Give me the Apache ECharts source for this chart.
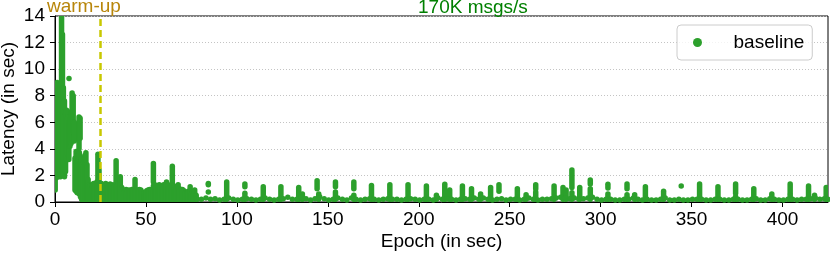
<!DOCTYPE html>
<html>
<head>
<meta charset="utf-8">
<script src="https://cdn.jsdelivr.net/npm/echarts@6/dist/echarts.min.js"></script>
<style>html,body{margin:0;padding:0;background:#fff}#c{width:830px;height:255px}</style>
</head>
<body>
<div id="c"></div>
<script>
// ---- data ----
const seriesName = 'baseline';
const titleText = '170K msgs/s';
const warmupLabel = 'warm-up';
const warmupEpoch = 25;

// dense vertical runs of points: [epoch, lowest latency, highest latency]
const streakRuns = [
  [0.1,0.9,2.6],[0.6,1.8,8.6],[1.2,2.2,9.0],[1.8,1.9,8.4],[2.4,2.4,7.8],[3.0,1.9,8.8],
  [3.6,2.4,13.9],[4.1,2.6,12.6],[4.6,2.0,8.6],[5.2,1.9,7.6],[5.8,2.3,6.6],[6.4,3.2,6.9],
  [7.0,3.6,6.4],[7.6,3.2,6.0],[8.2,4.2,6.2],[8.8,4.4,6.8],[9.4,4.6,8.2],[10.0,5.2,8.0],
  [10.6,4.6,6.0],[13.2,4.0,6.4],[13.8,4.8,6.3],
  [11.0,0.9,3.3],[11.6,0.8,3.8],[12.2,0.7,3.0],[12.8,0.7,3.5],[13.4,0.6,3.7],[14.0,0.4,3.1],
  [14.6,0.2,3.3],[15.2,0.1,2.9],[15.8,0.1,2.7],[16.4,0.1,3.5],[17.0,0.1,3.7],[17.6,0.1,2.8],
  [18.2,0.1,1.7],[18.8,0.1,1.3],[19.4,0.1,1.2],[20.0,0.1,1.0],[20.6,0.1,1.3],[21.2,0.1,1.4],
  [21.8,0.1,1.2],[22.4,0.1,1.4],[23.0,0.1,1.5],[23.6,0.1,3.6],[24.2,0.1,2.4],[24.8,0.1,1.3],
  [25.5,0.1,1.4],[26.3,0.1,1.2],[27.1,0.1,1.3],[27.9,0.1,1.4],[28.7,0.1,1.3],[29.5,0.1,1.2],
  [30.3,0.1,1.35],[31.1,0.1,1.3],[31.9,0.1,1.1],[32.7,0.1,1.3],[33.6,0.1,3.1],[34.4,0.1,1.2],
  [35.2,0.1,1.0],[35.9,0.1,1.9],[36.7,0.1,1.1],[37.5,0.1,0.9],[38.3,0.1,0.8],[39.1,0.1,0.95],
  [39.9,0.1,0.8],[40.7,0.1,0.9],[41.5,0.1,0.85],[42.3,0.1,0.95],[43.1,0.1,0.9],[44.0,0.1,1.7],
  [44.8,0.1,0.9],[45.6,0.1,0.85],[46.4,0.1,0.95],[47.2,0.1,0.9],[48.0,0.1,0.75],[48.8,0.1,0.65],
  [49.6,0.1,0.7],[50.4,0.1,0.85],[51.2,0.1,0.9],[52.0,0.1,0.95],[52.8,0.1,0.9],[54.1,1.5,2.9],
  [54.1,0.1,1.2],[54.9,0.1,1.3],[55.7,0.1,1.1],[56.5,0.1,1.2],[57.3,0.1,1.3],[58.1,0.1,1.2],
  [58.9,0.1,1.15],[59.7,0.1,1.3],[60.5,0.1,1.2],[61.3,0.1,1.5],[62.1,0.1,1.2],[62.9,0.1,1.1],
  [63.7,0.1,1.3],[64.5,0.1,2.7],[65.3,0.1,1.2],[66.1,0.1,1.0],[66.9,0.1,1.1],[67.7,0.1,1.3],
  [68.5,0.1,1.0],[69.3,0.1,0.9],[70.1,0.1,0.95],[70.9,0.1,0.85],[71.7,0.1,0.7],[72.5,0.1,0.6],
  [73.3,0.1,0.8],[74.3,0.1,1.15],[75.1,0.1,0.6],[75.9,0.1,0.5],[76.8,0.1,0.9],[77.6,0.1,0.5],
  [94.4,0.2,1.5],[104.4,1.15,1.35],[104.4,0.2,0.65],[114.5,0.2,1.15],[124.2,0.2,1.15],
  [134.0,0.2,1.1],[136.0,0.2,0.6],[144.1,1.0,1.6],[145.0,0.2,0.6],[154.2,1.15,1.5],[154.2,0.2,0.75],
  [164.3,1.0,1.5],[164.3,0.2,0.5],[174.0,0.2,1.25],[184.1,0.2,1.3],[194.1,0.2,1.3],[204.2,0.2,1.2],
  [209.7,0.2,0.5],[214.3,0.2,1.33],[217.0,0.2,0.9],[224.0,0.2,1.2],[229.0,0.2,1.0],[234.0,0.2,0.6],
  [239.5,0.2,1.1],[244.1,0.8,1.3],[254.2,0.2,1.0],[259.0,0.2,0.55],[264.3,0.2,0.75],[264.3,1.0,1.3],
  [274.4,0.2,1.2],[279.3,0.2,1.1],[281.0,0.2,0.9],[284.2,1.1,2.4],[284.2,0.2,0.7],[288.5,0.2,1.1],
  [294.3,1.35,1.65],[294.3,0.2,1.0],[304.0,1.05,1.33],[304.0,0.2,0.6],[314.5,1.0,1.35],[314.5,0.2,0.55],
  [318.7,0.2,0.55],[324.6,0.2,1.15],[334.6,0.2,0.8],[354.4,0.2,1.35],[364.5,0.2,1.15],
  [374.2,0.65,1.35],[374.2,0.2,0.4],[384.2,0.2,1.0],[394.1,0.2,0.6],[404.2,0.65,1.35],[404.2,0.2,0.5],
  [414.3,0.2,1.2],[417.6,0.2,0.5],[424.0,0.2,1.1]
];

// isolated points: [epoch, latency]
const isolatedDots = [
  [7.7,9.3],[84.3,1.4],[84.3,1.3],[84.3,0.75],[344.3,1.2]
];

// low steady-state floor: [epoch, latency]
const floorPoints = [
  [78,0.25],[80.5,0.2],[83,0.3],[85.5,0.2],[88,0.25],[90.5,0.15],[93,0.2],[95.5,0.3],[98,0.2],
  [100.5,0.15],[103,0.2],[105.5,0.25],[108,0.2],[110.5,0.15],[113,0.2],[115.5,0.3],[118,0.2],
  [120.5,0.15],[123,0.2],[125.5,0.25],[128,0.35],[130.5,0.2],[133,0.2],[135.5,0.35],[138,0.25],
  [140.5,0.15],[143,0.25],[145.5,0.4],[148,0.25],[150.5,0.15],[153,0.2],[155.5,0.3],[158,0.2],
  [160.5,0.15],[163,0.3],[165.5,0.2],[168,0.15],[170.5,0.2],[173,0.25],[175.5,0.2],[178,0.15],
  [180.5,0.2],[183,0.25],[185.5,0.2],[188,0.2],[190.5,0.15],[193,0.2],[195.5,0.25],[198,0.2],
  [200.5,0.15],[203,0.2],[205.5,0.2],[208,0.15],[210.5,0.3],[213,0.2],[215.5,0.25],[218,0.2],
  [220.5,0.15],[223,0.2],[225.5,0.25],[228,0.2],[230.5,0.3],[233,0.2],[235.5,0.3],[238,0.2],
  [240.5,0.15],[243,0.2],[245.5,0.25],[248,0.15],[250.5,0.2],[253,0.2],[255.5,0.15],[258,0.2],
  [260.5,0.3],[263,0.2],[265.5,0.15],[268,0.2],[270.5,0.2],[273,0.25],[275.5,0.3],[278,0.35],
  [280.5,0.3],[283,0.25],[285.5,0.3],[288,0.2],[290.5,0.25],[293,0.3],[295.5,0.35],[298,0.2],
  [300.5,0.15],[303,0.2],[305.5,0.2],[308,0.15],[310.5,0.15],[313,0.2],[315.5,0.2],[318,0.3],
  [320.5,0.2],[323,0.15],[325.5,0.2],[328,0.15],[330.5,0.15],[333,0.2],[335.5,0.3],[338,0.15],
  [340.5,0.15],[343,0.2],[345.5,0.15],[348,0.15],[350.5,0.2],[353,0.2],[355.5,0.2],[358,0.15],
  [360.5,0.15],[363,0.2],[365.5,0.2],[368,0.15],[370.5,0.15],[373,0.2],[375.5,0.2],[378,0.15],
  [380.5,0.15],[383,0.2],[385.5,0.25],[388,0.15],[390.5,0.15],[393,0.25],[395.5,0.2],[398,0.15],
  [400.5,0.15],[403,0.2],[405.5,0.2],[408,0.15],[410.5,0.2],[413,0.2],[415.5,0.25],[418,0.3],
  [420.5,0.2],[423,0.25],[425,0.2]
];

// ---- chart ----
const FONT = '"Liberation Sans", Arial, Helvetica, sans-serif';
const GREEN = '#2ca02c';
const DOT = 5.5;

const chart = echarts.init(document.getElementById('c'), null, {renderer: 'canvas'});
chart.setOption({
  animation: false,
  backgroundColor: '#ffffff',
  textStyle: {fontFamily: FONT},
  grid: {left: 55, right: 2, top: 16, bottom: 53, containLabel: false, outerBoundsMode: 'none',
         show: true, borderColor: '#000', borderWidth: 1, backgroundColor: 'transparent'},
  xAxis: {
    type: 'value', min: 0, max: 425, interval: 50,
    name: 'Epoch (in sec)', nameLocation: 'middle', nameGap: 30, nameMoveOverlap: false,
    nameTextStyle: {fontSize: 19, color: '#000', fontFamily: FONT},
    axisLine: {show: true, onZero: false, lineStyle: {color: '#000', width: 1}},
    axisTick: {show: true, length: 5, lineStyle: {color: '#000', width: 1}},
    axisLabel: {fontSize: 19, color: '#000', margin: 8, showMaxLabel: false, fontFamily: FONT},
    splitLine: {show: false}
  },
  yAxis: {
    type: 'value', min: 0, max: 14, interval: 2,
    name: 'Latency (in sec)', nameLocation: 'middle', nameGap: 37, nameRotate: 90, nameMoveOverlap: false,
    nameTextStyle: {fontSize: 19, color: '#000', fontFamily: FONT},
    axisLine: {show: true, lineStyle: {color: '#000', width: 1}},
    axisTick: {show: true, length: 5, lineStyle: {color: '#000', width: 1}},
    axisLabel: {fontSize: 19, color: '#000', margin: 10, fontFamily: FONT},
    splitLine: {show: true, lineStyle: {color: '#c4c4c4', type: [1, 2], width: 1}}
  },
  legend: {
    data: [{name: seriesName, icon: 'circle'}],
    left: 677, top: 25, padding: [8, 8, 8, 16],
    itemWidth: 20, itemHeight: 9, itemGap: 0,
    borderColor: '#cccccc', borderWidth: 1, borderRadius: 4,
    backgroundColor: 'rgba(255,255,255,0.8)',
    textStyle: {fontSize: 19, color: '#000', fontFamily: FONT, padding: [0, 0, 0, 21]},
    itemStyle: {color: GREEN}
  },
  graphic: [
    {type: 'text', x: 47, y: 6.5, z: 10, style: {text: warmupLabel, font: '19px ' + FONT, fill: '#b8860b', align: 'left', verticalAlign: 'middle'}},
    {type: 'text', x: 418, y: 8.2, z: 10, style: {text: titleText, font: '19px ' + FONT, fill: '#008000', align: 'left', verticalAlign: 'middle'}}
  ],
  series: [
    {
      type: 'custom', name: seriesName, data: streakRuns, clip: true, z: 2,
      encode: {x: 0, y: [1, 2]},
      itemStyle: {color: GREEN},
      renderItem: function (params, api) {
        const top = api.coord([api.value(0), api.value(2)]);
        const bot = api.coord([api.value(0), api.value(1)]);
        const r = DOT / 2;
        return {type: 'rect', shape: {x: top[0] - r, y: top[1] - r, width: 2 * r, height: bot[1] - top[1] + 2 * r, r: r}, style: {fill: GREEN}};
      }
    },
    {
      type: 'scatter', name: seriesName, data: floorPoints.concat(isolatedDots), z: 3,
      symbol: 'circle', symbolSize: DOT, itemStyle: {color: GREEN, opacity: 1},
      markLine: {
        silent: true, symbol: 'none', label: {show: false}, animation: false,
        lineStyle: {color: '#c8c800', width: 2.5, type: [7, 4]},
        data: [{xAxis: warmupEpoch}]
      }
    }
  ]
});
</script>
</body>
</html>
